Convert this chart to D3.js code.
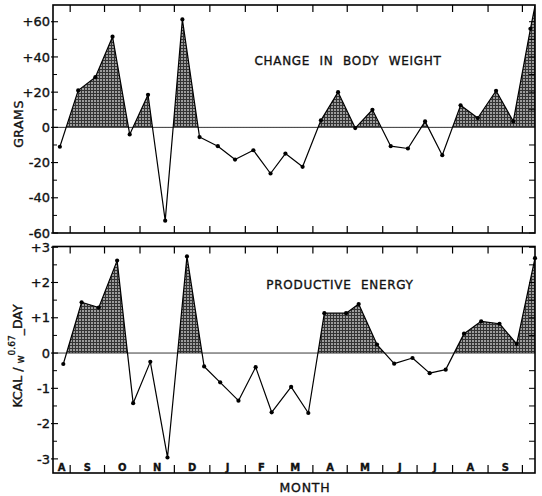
<!DOCTYPE html>
<html>
<head>
<meta charset="utf-8">
<script src="https://cdn.jsdelivr.net/npm/d3@7"></script>
<style>
  html, body { margin: 0; padding: 0; background: #fff; }
  svg { display: block; }
  text { font-family: "DejaVu Sans", "Liberation Sans", sans-serif; fill: #111; stroke: #111; stroke-width: 0.35px; }
</style>
</head>
<body>
<svg id="chart" width="542" height="496"></svg>
<script>
// ---------------- DATA ----------------
const domainDates = ["1961-08-17", "1962-10-12"];

// Change in body weight (grams), semi-monthly samples
const weightDates = ["1961-08-23","1961-09-08","1961-09-23","1961-10-08","1961-10-23","1961-11-08","1961-11-23","1961-12-08","1961-12-23","1962-01-08","1962-01-23","1962-02-08","1962-02-23","1962-03-08","1962-03-23","1962-04-08","1962-04-23","1962-05-08","1962-05-23","1962-06-08","1962-06-23","1962-07-08","1962-07-23","1962-08-08","1962-08-23","1962-09-08","1962-09-23","1962-10-08","1962-10-12"];
const weightValues = [-11, 21, 28.5, 51.5, -4, 18.5, -53, 61.3, -5.5, -10.7, -18.3, -13, -26.2, -14.9, -22.4, 4, 20, -0.4, 10, -10.7, -12, 3.4, -15.8, 12.5, 5.3, 20.8, 3.4, 56, 69];
const weightMarked = 28; // number of points carrying a dot (last value runs to the frame edge)

// Productive energy (kcal / W^0.67 - day)
const energyDates = ["1961-08-26","1961-09-11","1961-09-26","1961-10-12","1961-10-26","1961-11-10","1961-11-25","1961-12-12","1961-12-27","1962-01-10","1962-01-26","1962-02-10","1962-02-24","1962-03-13","1962-03-28","1962-04-11","1962-04-30","1962-05-11","1962-05-27","1962-06-11","1962-06-27","1962-07-12","1962-07-26","1962-08-11","1962-08-26","1962-09-11","1962-09-26","1962-10-12"];
const energyValues = [-0.31, 1.44, 1.29, 2.62, -1.42, -0.25, -2.96, 2.74, -0.38, -0.83, -1.35, -0.40, -1.68, -0.96, -1.70, 1.13, 1.13, 1.39, 0.24, -0.30, -0.14, -0.57, -0.47, 0.55, 0.90, 0.83, 0.26, 2.69];

// Month axis
const monthStarts = ["1961-08-01","1961-09-01","1961-10-01","1961-11-01","1961-12-01","1962-01-01","1962-02-01","1962-03-01","1962-04-01","1962-05-01","1962-06-01","1962-07-01","1962-08-01","1962-09-01","1962-10-01"];
const monthLabels = ["A","S","O","N","D","J","F","M","A","M","J","J","A","S"];

// Y ticks
const weightTicks = [60, 40, 20, 0, -20, -40, -60];
const weightMinor = [50, 30, 10, -10, -30, -50];
const energyTicks = [3, 2, 1, 0, -1, -2, -3];
const energyMinor = [2.5, 1.5, 0.5, -0.5, -1.5, -2.5];

const titles = ["CHANGE IN BODY WEIGHT", "PRODUCTIVE ENERGY"];

// ---------------- LAYOUT ----------------
const parse = d3.timeParse("%Y-%m-%d");
const svg = d3.select("#chart");
const L = 53, R = 535;
const x = d3.scaleTime().domain(domainDates.map(parse)).range([L, R]);

const defs = svg.append("defs");
const pat = defs.append("pattern").attr("id", "screen")
  .attr("patternUnits", "userSpaceOnUse").attr("width", 3).attr("height", 3);
pat.append("rect").attr("width", 3).attr("height", 3).attr("fill", "#9c9c9c");
pat.append("rect").attr("width", 3).attr("height", 1).attr("fill", "#333");
pat.append("rect").attr("width", 1).attr("height", 3).attr("fill", "#333");

const fmt = v => v > 0 ? "+" + v : (v < 0 ? "-" + Math.abs(v) : "0");

function panel(id, dates, values, nMarked, yDomain, top, bottom, ticks, minor, title, titleX, titleY) {
  const y = d3.scaleLinear().domain(yDomain).range([bottom, top]);
  const g = svg.append("g");
  const pts = dates.map((d, i) => ({ t: parse(d), v: values[i] }));

  defs.append("clipPath").attr("id", "pos" + id).append("rect")
    .attr("x", L).attr("y", top).attr("width", R - L).attr("height", y(0) - top);
  defs.append("clipPath").attr("id", "frame" + id).append("rect")
    .attr("x", L).attr("y", top).attr("width", R - L).attr("height", bottom - top);

  // positive shading
  const area = d3.area().x(d => x(d.t)).y0(y(0)).y1(d => y(d.v));
  g.append("path").datum(pts).attr("d", area)
    .attr("fill", "url(#screen)").attr("clip-path", "url(#pos" + id + ")");

  // zero line
  g.append("line").attr("x1", L).attr("x2", R).attr("y1", y(0)).attr("y2", y(0))
    .attr("stroke", "#222").attr("stroke-width", 0.9);

  // data line
  const line = d3.line().x(d => x(d.t)).y(d => y(d.v));
  g.append("path").datum(pts).attr("d", line)
    .attr("fill", "none").attr("stroke", "#000").attr("stroke-width", 1.2)
    .attr("stroke-linejoin", "round").attr("clip-path", "url(#frame" + id + ")");
  g.selectAll("circle.pt").data(pts.slice(0, nMarked)).join("circle")
    .attr("class", "pt").attr("cx", d => x(d.t)).attr("cy", d => y(d.v))
    .attr("r", 2.1).attr("fill", "#000");

  // frame
  g.append("rect").attr("x", L).attr("y", top).attr("width", R - L).attr("height", bottom - top)
    .attr("fill", "none").attr("stroke", "#000").attr("stroke-width", 1.6);

  // month boundary ticks on top
  const bounds = monthStarts.map(parse).filter(d => x(d) > L + 2 && x(d) < R - 2);
  g.selectAll("line.mt").data(bounds).join("line").attr("class", "mt")
    .attr("x1", d => x(d)).attr("x2", d => x(d)).attr("y1", top).attr("y2", top + 7)
    .attr("stroke", "#000").attr("stroke-width", 1.2);

  // left ticks & labels
  g.selectAll("line.lt").data(ticks).join("line").attr("class", "lt")
    .attr("x1", L - 2).attr("x2", L + 5).attr("y1", d => y(d)).attr("y2", d => y(d))
    .attr("stroke", "#000").attr("stroke-width", 1.1);
  g.selectAll("line.lm").data(minor).join("line").attr("class", "lm")
    .attr("x1", L).attr("x2", L + 4).attr("y1", d => y(d)).attr("y2", d => y(d))
    .attr("stroke", "#000").attr("stroke-width", 1);
  g.selectAll("text.tl").data(ticks).join("text").attr("class", "tl")
    .attr("x", L - 3).attr("y", d => y(d)).attr("dy", "0.36em")
    .attr("text-anchor", "end").attr("font-size", 13).text(fmt);

  // right ticks
  const rightTicks = ticks.concat(minor).filter(d => d !== 0);
  g.selectAll("line.rt").data(rightTicks).join("line").attr("class", "rt")
    .attr("x1", R - 6).attr("x2", R).attr("y1", d => y(d)).attr("y2", d => y(d))
    .attr("stroke", "#000").attr("stroke-width", 1);

  // panel title
  g.append("text").attr("x", titleX).attr("y", titleY).attr("text-anchor", "middle")
    .attr("font-size", 12).attr("letter-spacing", 0.7).attr("word-spacing", 5)
    .text(title);
  return { y, g, bounds };
}

const p1 = panel("w", weightDates, weightValues, weightMarked, [-60, 69.5], 5, 233,
  weightTicks, weightMinor, titles[0], 348, 65);
// bottom frame ticks of upper panel
p1.g.selectAll("line.bt").data(p1.bounds).join("line").attr("class", "bt")
  .attr("x1", d => x(d)).attr("x2", d => x(d)).attr("y1", 233).attr("y2", 226)
  .attr("stroke", "#000").attr("stroke-width", 1.2);

const p2 = panel("e", energyDates, energyValues, energyValues.length, [-3.4, 3.02], 246.5, 473,
  energyTicks, energyMinor, titles[1], 340, 289);
// month separators and letters
p2.g.selectAll("line.sep").data(p2.bounds).join("line").attr("class", "sep")
  .attr("x1", d => x(d)).attr("x2", d => x(d)).attr("y1", 473).attr("y2", 465)
  .attr("stroke", "#000").attr("stroke-width", 1.2);
const dStart = parse(domainDates[0]);
const monthMid = monthLabels.map((m, i) => {
  const s = parse(monthStarts[i]) < dStart ? dStart : parse(monthStarts[i]);
  const e = parse(monthStarts[i + 1]);
  return { m, cx: (x(s) + x(e)) / 2 };
});
p2.g.selectAll("text.ml").data(monthMid).join("text").attr("class", "ml")
  .attr("x", d => d.cx).attr("y", 470.5).attr("text-anchor", "middle")
  .attr("font-size", 10).attr("font-weight", "bold").text(d => d.m);

// axis titles
svg.append("text").attr("transform", "translate(23,124) rotate(-90)")
  .attr("text-anchor", "middle").attr("font-size", 12.5).attr("letter-spacing", 0.5)
  .text("GRAMS");
const kt = svg.append("text").attr("transform", "translate(22,356) rotate(-90)")
  .attr("text-anchor", "middle").attr("font-size", 12.5);
kt.append("tspan").text("KCAL / ");
kt.append("tspan").attr("font-size", 10).attr("dy", 2).text("w");
kt.append("tspan").attr("font-size", 9).attr("dy", -9).text("0.67");
kt.append("tspan").attr("dy", 7).text("_DAY");

svg.append("text").attr("x", 305).attr("y", 492).attr("text-anchor", "middle")
  .attr("font-size", 12.5).attr("letter-spacing", 0.8).text("MONTH");
</script>
</body>
</html>
